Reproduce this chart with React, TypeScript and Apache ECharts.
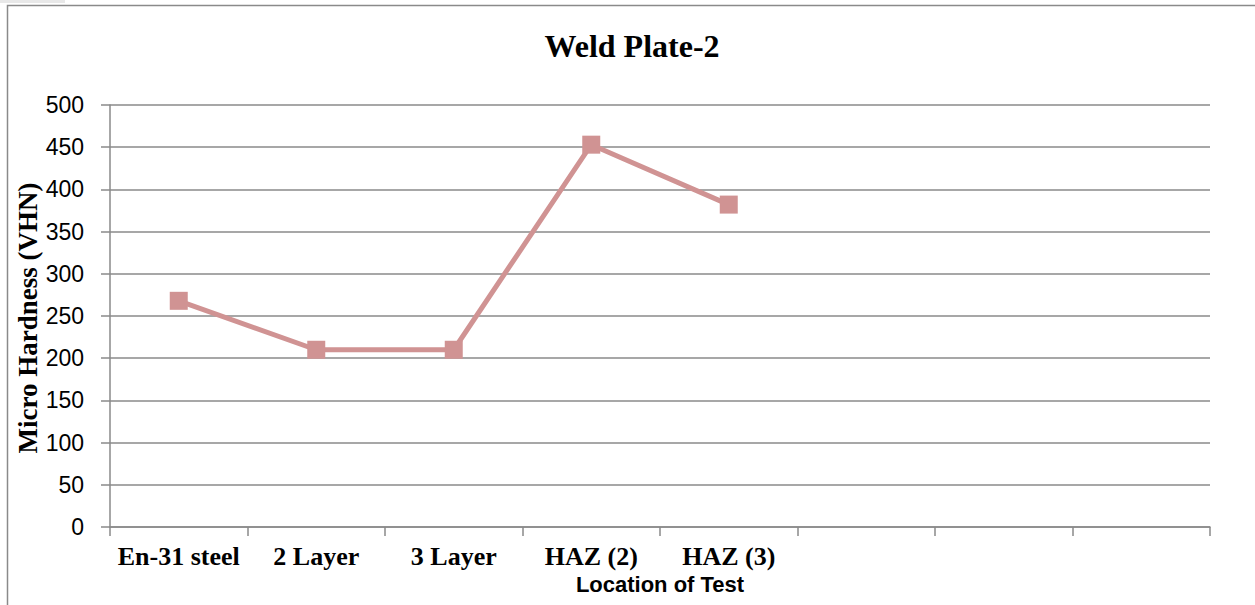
import React, { useEffect, useRef } from "react";
import * as echarts from "echarts";

const categories = ["En-31 steel", "2 Layer", "3 Layer", "HAZ (2)", "HAZ (3)", "", "", ""];
const hardness = [268, 210, 210, 453, 382, null, null, null];
const yMin = 0;
const yMax = 500;
const yStep = 50;
const chartTitle = "Weld Plate-2";
const yAxisTitle = "Micro Hardness (VHN)";
const xAxisTitle = "Location of Test";

const SERIF = "'Liberation Serif', 'Times New Roman', serif";
const SANS = "'Liberation Sans', Arial, sans-serif";

export default function App() {
  const ref = useRef<HTMLDivElement>(null);
  useEffect(() => {
    if (!ref.current) return;
    const chart = echarts.init(ref.current, null, { renderer: "svg" });
    chart.setOption({
      animation: false,
      backgroundColor: "#ffffff",
      graphic: [
        { type: "rect", shape: { x: 7.5, y: 5.5, width: 1260, height: 610 }, style: { fill: "none", stroke: "#8a8a8a", lineWidth: 1.5 }, silent: true },
        { type: "rect", shape: { x: 0, y: 0, width: 65, height: 3 }, style: { fill: "#e8e8e8" }, silent: true },
        {
          type: "text",
          x: 632,
          y: 46,
          style: {
            text: chartTitle,
            fontFamily: SERIF,
            fontWeight: "bold",
            fontSize: 32,
            fill: "#000",
            textAlign: "center",
            textVerticalAlign: "middle",
          },
          silent: true,
        },
        {
          type: "text",
          x: 28,
          y: 318,
          rotation: Math.PI / 2,
          style: {
            text: yAxisTitle,
            fontFamily: SERIF,
            fontWeight: "bold",
            fontSize: 27,
            fill: "#000",
            textAlign: "center",
            textVerticalAlign: "middle",
          },
          silent: true,
        },
      ],
      grid: { left: 110, right: 45, top: 105, bottom: 78, containLabel: false },
      xAxis: {
        type: "category",
        data: categories,
        boundaryGap: true,
        axisLine: { show: true, lineStyle: { color: "#8a8a8a", width: 1.5 } },
        axisTick: { show: true, length: 9, interval: 0, lineStyle: { color: "#8a8a8a", width: 1.5 } },
        axisLabel: { interval: 0, margin: 16, fontFamily: SERIF, fontWeight: "bold", fontSize: 26, color: "#000" },
        name: xAxisTitle,
        nameLocation: "middle",
        nameGap: 46,
        nameTextStyle: { fontFamily: SANS, fontWeight: "bold", fontSize: 22, color: "#000" },
        splitLine: { show: false },
      },
      yAxis: {
        type: "value",
        min: yMin,
        max: yMax,
        interval: yStep,
        axisLine: { show: true, lineStyle: { color: "#8a8a8a", width: 1.5 } },
        axisTick: { show: true, length: 9, lineStyle: { color: "#8a8a8a", width: 1.5 } },
        axisLabel: { margin: 26, fontFamily: SANS, fontSize: 23, color: "#000" },
        splitLine: { show: true, lineStyle: { color: "#8a8a8a", width: 1.5 } },
      },
      series: [
        {
          type: "line",
          data: hardness,
          symbol: "rect",
          symbolSize: 18,
          lineStyle: { color: "#d09393", width: 5 },
          itemStyle: { color: "#d09393" },
          connectNulls: false,
        },
      ],
    });
    return () => chart.dispose();
  }, []);
  return (
    <div
      ref={ref}
      style={{ position: "absolute", left: 0, top: 0, width: 1255, height: 605 }}
    />
  );
}
